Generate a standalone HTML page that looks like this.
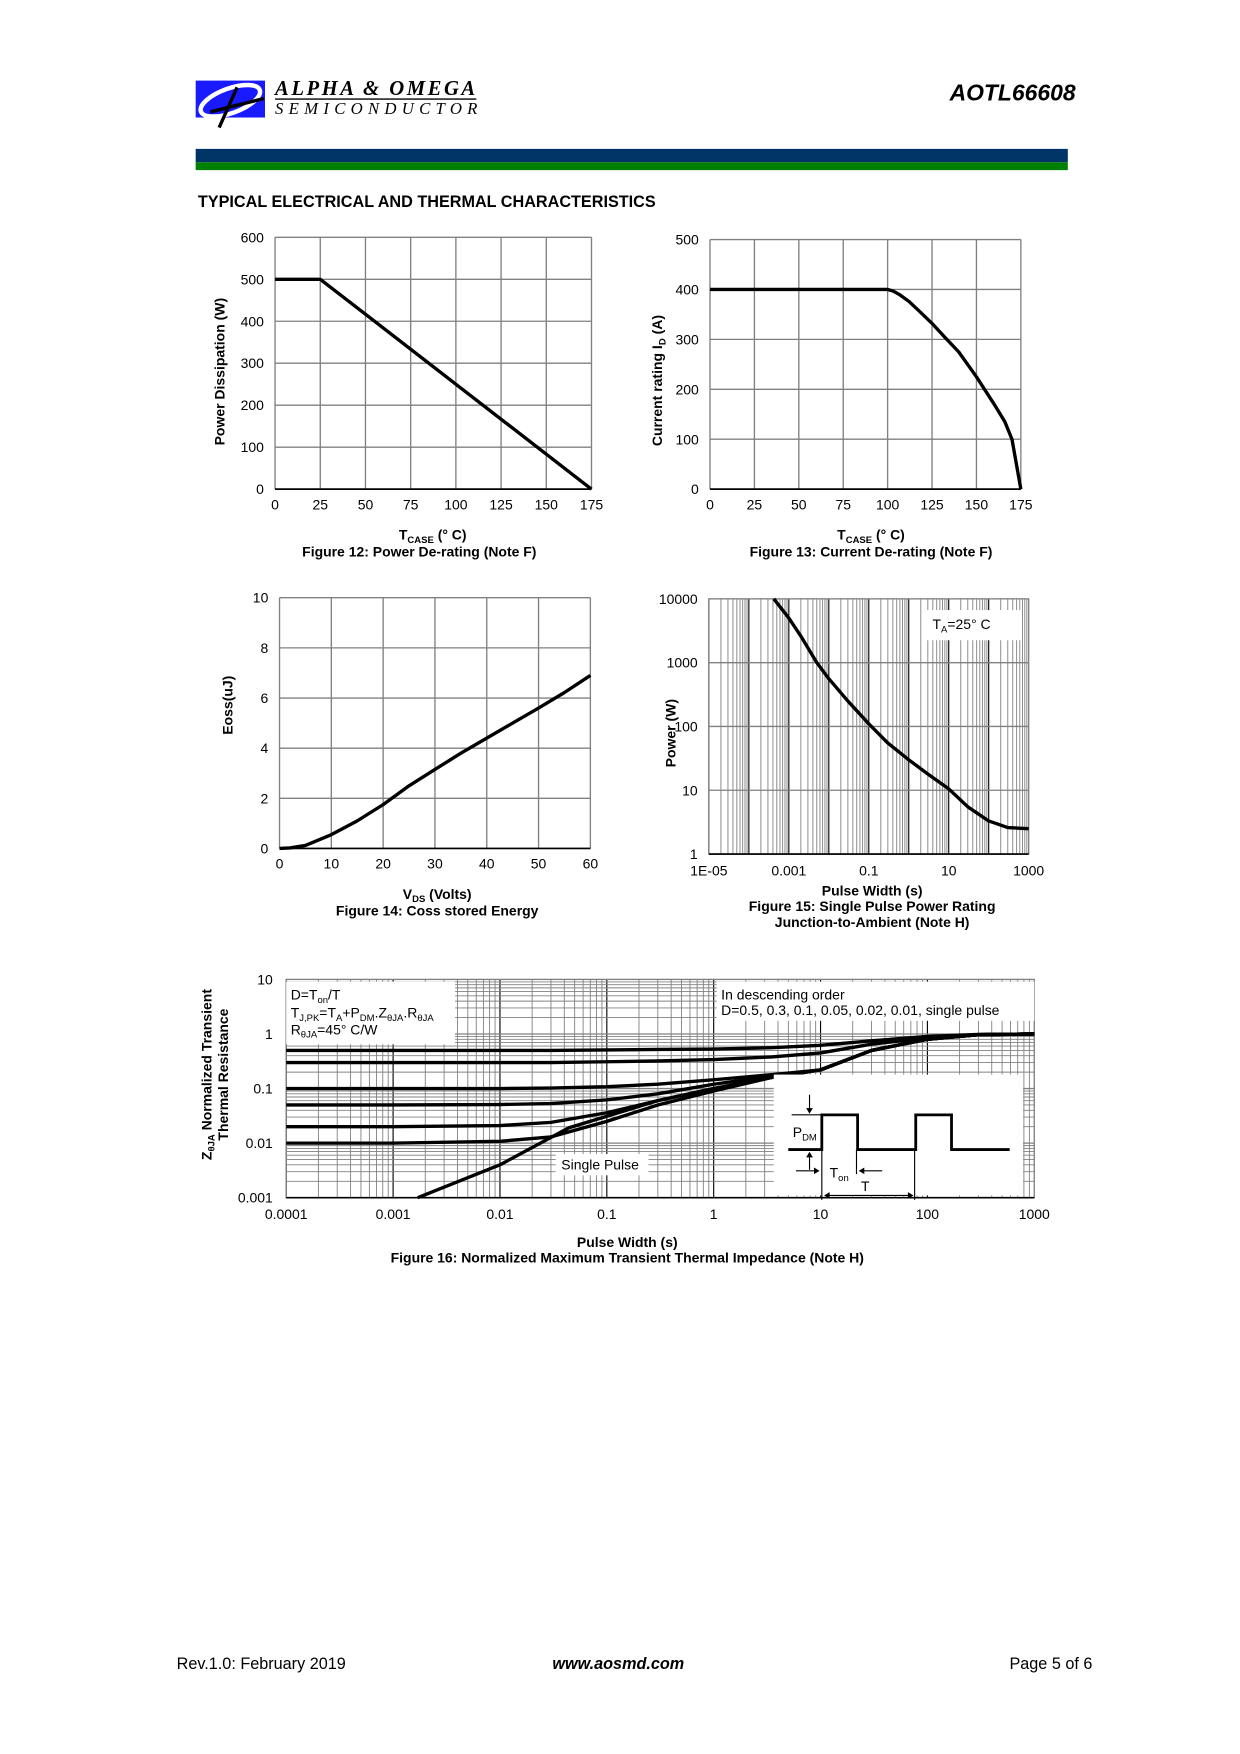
<!DOCTYPE html>
<html><head><meta charset="utf-8">
<style>
html,body{margin:0;padding:0;background:#fff;}
svg{display:block;font-family:"Liberation Sans",Arial,sans-serif;}
.tk{font-size:12.5px;fill:#000;}
.cap{font-size:12.5px;font-weight:bold;fill:#000;}
.grid{stroke:#808080;stroke-width:1.2;fill:none;}
.curve{stroke:#000;stroke-width:3;fill:none;stroke-linejoin:round;}
</style></head>
<body>
<svg id="page" width="1240" height="1754" viewBox="0 0 1109 1567" preserveAspectRatio="none" xmlns="http://www.w3.org/2000/svg">
  <g>
    <rect x="175" y="72" width="62" height="33" fill="#1a1aff"/>
    <ellipse cx="206" cy="90" rx="28" ry="11" fill="none" stroke="#fff" stroke-width="4" transform="rotate(-20 206 90)"/>
    <path d="M196 114 L212 78 M188 100 L236 88" stroke="#000" stroke-width="3" fill="none"/>
    <text x="246" y="85" font-family="Liberation Serif,serif" font-style="italic" font-weight="bold" font-size="18.5" textLength="179">ALPHA &amp; OMEGA</text>
    <line x1="246" y1="88.5" x2="426" y2="88.5" stroke="#000" stroke-width="1.3"/>
    <text x="246" y="102" font-family="Liberation Serif,serif" font-style="italic" font-size="15" textLength="181">SEMICONDUCTOR</text>
  </g>
  <text x="962" y="90" text-anchor="end" font-weight="bold" font-style="italic" font-size="20.5">AOTL66608</text>
  <rect x="175" y="133" width="780" height="12" fill="#003366"/>
  <rect x="175" y="145" width="780" height="7" fill="#008000"/>
  <text x="177" y="185" font-weight="bold" font-size="14.5">TYPICAL ELECTRICAL AND THERMAL CHARACTERISTICS</text>

  <g id="f12"></g>
  <g id="f13"></g>
  <g id="f14"></g>
  <g id="f15"></g>
  <g id="f16"></g>

  <text x="158" y="1491" font-size="14.5">Rev.1.0: February 2019</text>
  <text x="553" y="1491" text-anchor="middle" font-size="14.5" font-weight="bold" font-style="italic">www.aosmd.com</text>
  <text x="977" y="1491" text-anchor="end" font-size="14.5">Page 5 of 6</text>
</svg>
<script>
// ---- Figure 12 data ----
const f12Temp = [0, 25, 175];
const f12Power = [500, 500, 0];
const f12XTicks = [0, 25, 50, 75, 100, 125, 150, 175];
const f12YTicks = [0, 100, 200, 300, 400, 500, 600];
// ---- Figure 13 data ----
const f13Temp = [0, 100, 103, 107, 112, 118, 125, 132, 140, 150, 160, 166, 170, 175];
const f13Current = [400, 400, 397, 389, 376, 356, 332, 305, 275, 225, 170, 135, 100, 0];
const f13XTicks = [0, 25, 50, 75, 100, 125, 150, 175];
const f13YTicks = [0, 100, 200, 300, 400, 500];
// ---- Figure 14 data ----
const f14Vds = [0, 2, 5, 10, 15, 20, 25, 30, 35, 40, 45, 50, 55, 60];
const f14Eoss = [0, 0.02, 0.12, 0.55, 1.1, 1.75, 2.5, 3.15, 3.8, 4.4, 5.0, 5.6, 6.22, 6.9];
const f14XTicks = [0, 10, 20, 30, 40, 50, 60];
const f14YTicks = [0, 2, 4, 6, 8, 10];
// ---- Figure 15 data ----
const f15Time = [0.00042, 0.001, 0.002, 0.005, 0.01, 0.03, 0.1, 0.3, 1, 3, 10, 30, 100, 300, 1000];
const f15Power = [10000, 5000, 2600, 1000, 560, 250, 110, 55, 30, 18, 10.5, 5.5, 3.3, 2.6, 2.5];
const f15XTicks = ["1E-05", "0.001", "0.1", "10", "1000"];
const f15YTicks = ["1", "10", "100", "1000", "10000"];
// ---- Figure 16 data ----
const f16Time = [0.0001, 0.001, 0.01, 0.03, 0.1, 0.3, 1, 3.5, 10, 30, 100, 300, 1000];
const f16D05 = [0.5, 0.5, 0.5, 0.5, 0.51, 0.52, 0.53, 0.56, 0.62, 0.75, 0.9, 0.98, 1.0];
const f16D03 = [0.3, 0.3, 0.3, 0.3, 0.31, 0.32, 0.34, 0.38, 0.45, 0.65, 0.85, 0.97, 1.0];
const f16D01 = [0.1, 0.1, 0.1, 0.102, 0.108, 0.12, 0.145, 0.18, 0.22, 0.5, 0.8, 0.97, 1.0];
const f16D005 = [0.05, 0.05, 0.051, 0.053, 0.062, 0.08, 0.12, 0.17, 0.22, 0.5, 0.8, 0.97, 1.0];
const f16D002 = [0.02, 0.02, 0.021, 0.024, 0.036, 0.06, 0.1, 0.16, 0.22, 0.5, 0.8, 0.97, 1.0];
const f16D001 = [0.01, 0.01, 0.0108, 0.013, 0.025, 0.05, 0.09, 0.16, 0.22, 0.5, 0.8, 0.97, 1.0];
const f16SpTime = [0.0017, 0.01, 0.044, 0.3, 1, 3.5, 10, 30, 100, 300, 1000];
const f16Single = [0.001, 0.004, 0.019, 0.06, 0.1, 0.16, 0.22, 0.5, 0.8, 0.97, 1.0];
const f16XTicks = ["0.0001", "0.001", "0.01", "0.1", "1", "10", "100", "1000"];
const f16YTicks = ["0.001", "0.01", "0.1", "1", "10"];

const NS = "http://www.w3.org/2000/svg";
function mk(parent, tag, attrs, text) {
  const e = document.createElementNS(NS, tag);
  for (const k in attrs) e.setAttribute(k, attrs[k]);
  if (text !== undefined) e.textContent = text;
  parent.appendChild(e);
  return e;
}
function linScale(d0, d1, r0, r1) { return v => r0 + (v - d0) / (d1 - d0) * (r1 - r0); }
function logScale(d0, d1, r0, r1) { const a = Math.log10(d0), b = Math.log10(d1); return v => r0 + (Math.log10(v) - a) / (b - a) * (r1 - r0); }
function pathFrom(xs, ys, sx, sy) { return xs.map((x, i) => (i ? "L" : "M") + sx(x).toFixed(2) + " " + sy(ys[i]).toFixed(2)).join(" "); }

function linearChart(g, box, xd, yd, xt, yt, xs, ys, name) {
  const sx = linScale(xd[0], xd[1], box.x0, box.x1), sy = linScale(yd[0], yd[1], box.y0, box.y1);
  xt.forEach(v => {
    const l = mk(g, "line", {x1: sx(v), x2: sx(v), y1: box.y1, y2: box.y0, class: "grid"});
    
    
    const t = mk(g, "text", {x: sx(v), y: box.y0 + 18, class: "tk", "text-anchor": "middle"}, String(v));
    
    
  });
  yt.forEach(v => {
    const l = mk(g, "line", {x1: box.x0, x2: box.x1, y1: sy(v), y2: sy(v), class: "grid"});
    
    
    const t = mk(g, "text", {x: box.x0 - 10, y: sy(v) + 4.5, class: "tk", "text-anchor": "end"}, String(v));
    
    
  });
  const ax = mk(g, "line", {x1: box.x0, x2: box.x1, y1: box.y0, y2: box.y0, stroke: "#000", "stroke-width": 1.5});
  
  
  const p = mk(g, "path", {d: pathFrom(xs, ys, sx, sy), class: "curve"});
  
  
}
function tcase(g, cx, y) {
  const t = mk(g, "text", {x: cx, y: y, "text-anchor": "middle", class: "cap"});
  
  
  t.innerHTML = 'T<tspan font-size="8.5" dy="3">CASE</tspan><tspan dy="-3"> (° C)</tspan>';
}
function caption(g, cx, y, s) {
  const t = mk(g, "text", {x: cx, y: y, "text-anchor": "middle", class: "cap"}, s);
  
  
}
function ylab(g, x, cy, html) {
  const t = mk(g, "text", {x: 0, y: 0, transform: `translate(${x} ${cy}) rotate(-90)`, "text-anchor": "middle", class: "cap"});
  
  
  t.innerHTML = html;
}

// Figure 12
(function () {
  const g = document.getElementById("f12");
  linearChart(g, {x0: 246, x1: 529, y0: 437, y1: 212}, [0, 175], [0, 600], f12XTicks, f12YTicks, f12Temp, f12Power, "power-derating-line");
  ylab(g, 201, 332, "Power Dissipation (W)");
  tcase(g, 387, 482); caption(g, 375, 497, "Figure 12: Power De-rating (Note F)");
})();
// Figure 13
(function () {
  const g = document.getElementById("f13");
  linearChart(g, {x0: 635, x1: 913, y0: 437, y1: 214}, [0, 175], [0, 500], f13XTicks, f13YTicks, f13Temp, f13Current, "current-derating-line");
  ylab(g, 592, 340, 'Current rating I<tspan font-size="8.5" dy="3">D</tspan><tspan dy="-3"> (A)</tspan>');
  tcase(g, 779, 482); caption(g, 779, 497, "Figure 13: Current De-rating (Note F)");
})();
// Figure 14
(function () {
  const g = document.getElementById("f14");
  linearChart(g, {x0: 250, x1: 528, y0: 758, y1: 534}, [0, 60], [0, 10], f14XTicks, f14YTicks, f14Vds, f14Eoss, "eoss-curve");
  ylab(g, 208, 630, "Eoss(uJ)");
  const t = mk(g, "text", {x: 391, y: 803, "text-anchor": "middle", class: "cap"});
  
  
  t.innerHTML = 'V<tspan font-size="8.5" dy="3">DS</tspan><tspan dy="-3"> (Volts)</tspan>';
  caption(g, 391, 818, "Figure 14: Coss stored Energy");
})();
// Log grid helper
function logGrid(g, sx, sy, xd, yd, box, hMinor) {
  for (let e = Math.log10(xd[0]); e < Math.log10(xd[1]); e++) {
    for (let m = 1; m <= 9; m++) {
      const v = m * Math.pow(10, e);
      const l = mk(g, "line", {x1: sx(v), x2: sx(v), y1: box.y1, y2: box.y0, stroke: m === 1 ? "#000" : "#808080", "stroke-width": m === 1 ? 1 : 0.8});
      
      
    }
  }
  for (let e = Math.log10(yd[0]); e < Math.log10(yd[1]); e++) {
    for (let m = 1; m <= (hMinor ? 9 : 1); m++) {
      const v = m * Math.pow(10, e);
      const l = mk(g, "line", {x1: box.x0, x2: box.x1, y1: sy(v), y2: sy(v), stroke: "#808080", "stroke-width": m === 1 ? 1.2 : 0.8});
      
      
    }
  }
  const r = mk(g, "rect", {x: box.x0, y: box.y1, width: box.x1 - box.x0, height: box.y0 - box.y1, fill: "none", stroke: "#808080", "stroke-width": 1.2});
  
  
  const ax = mk(g, "line", {x1: box.x0, x2: box.x1, y1: box.y0, y2: box.y0, stroke: "#000", "stroke-width": 1.5});
  
  
}
// Figure 15
(function () {
  const g = document.getElementById("f15");
  const box = {x0: 634, x1: 920, y0: 763, y1: 535};
  const sx = logScale(1e-5, 1000, box.x0, box.x1), sy = logScale(1, 10000, box.y0, box.y1);
  logGrid(g, sx, sy, [1e-5, 1000], [1, 10000], box, false);
  f15XTicks.forEach(s => {
    const t = mk(g, "text", {x: sx(parseFloat(s)), y: 782, class: "tk", "text-anchor": "middle"}, s);
    
    
  });
  f15YTicks.forEach(s => {
    const t = mk(g, "text", {x: 624, y: sy(parseFloat(s)) + 4.5, class: "tk", "text-anchor": "end"}, s);
    
    
  });
  const lg = mk(g, "rect", {x: 828, y: 545, width: 86, height: 27, fill: "#fff"});
  
  
  const lt = mk(g, "text", {x: 834, y: 562, class: "tk"});
  
  
  lt.innerHTML = 'T<tspan font-size="8.5" dy="3">A</tspan><tspan dy="-3">=25° C</tspan>';
  const p = mk(g, "path", {d: pathFrom(f15Time, f15Power, sx, sy), class: "curve"});
  
  
  ylab(g, 604, 655, "Power (W)");
  caption(g, 780, 800, "Pulse Width (s)");
  caption(g, 780, 814, "Figure 15: Single Pulse Power Rating");
  caption(g, 780, 828, "Junction-to-Ambient (Note H)");
})();
// Figure 16
(function () {
  const g = document.getElementById("f16");
  const box = {x0: 256, x1: 925, y0: 1070, y1: 875};
  const sx = logScale(1e-4, 1000, box.x0, box.x1), sy = logScale(0.001, 10, box.y0, box.y1);
  logGrid(g, sx, sy, [1e-4, 1000], [0.001, 10], box, true);
  f16XTicks.forEach(s => {
    const t = mk(g, "text", {x: sx(parseFloat(s)), y: 1089, class: "tk", "text-anchor": "middle"}, s);
    
    
  });
  f16YTicks.forEach(s => {
    const t = mk(g, "text", {x: 244, y: sy(parseFloat(s)) + 4.5, class: "tk", "text-anchor": "end"}, s);
    
    
  });
  const boxes = [[256, 877, 151, 56, 'legend-formula-box'], [641, 877, 284, 35, 'legend-order-box'], [497, 1031, 83, 19, 'single-pulse-label-box']];
  boxes.forEach(b => {
    const r = mk(g, "rect", {x: b[0], y: b[1], width: b[2], height: b[3], fill: "#fff"});
    
    
  });
  const series = [[f16Time, f16D05, 'curve-d-0.5'], [f16Time, f16D03, 'curve-d-0.3'], [f16Time, f16D01, 'curve-d-0.1'], [f16Time, f16D005, 'curve-d-0.05'], [f16Time, f16D002, 'curve-d-0.02'], [f16Time, f16D001, 'curve-d-0.01'], [f16SpTime, f16Single, 'curve-single-pulse']];
  series.forEach(s => {
    const p = mk(g, "path", {d: pathFrom(s[0], s[1], sx, sy), class: "curve"});
    
    
  });
  const ins = mk(g, "rect", {x: 692, y: 960, width: 223, height: 108, fill: "#fff"});
  
  
  const t1 = mk(g, "text", {x: 260, y: 893, class: "tk"});
  
  
  t1.innerHTML = 'D=T<tspan font-size="8.5" dy="3">on</tspan><tspan dy="-3">/T</tspan>';
  const t2 = mk(g, "text", {x: 260, y: 909, class: "tk"});
  
  
  t2.innerHTML = 'T<tspan font-size="8.5" dy="3">J,PK</tspan><tspan dy="-3">=T</tspan><tspan font-size="8.5" dy="3">A</tspan><tspan dy="-3">+P</tspan><tspan font-size="8.5" dy="3">DM</tspan><tspan dy="-3">.Z</tspan><tspan font-size="8.5" dy="3">θJA</tspan><tspan dy="-3">.R</tspan><tspan font-size="8.5" dy="3">θJA</tspan>';
  const t3 = mk(g, "text", {x: 260, y: 924, class: "tk"});
  
  
  t3.innerHTML = 'R<tspan font-size="8.5" dy="3">θJA</tspan><tspan dy="-3">=45° C/W</tspan>';
  const t4 = mk(g, "text", {x: 645, y: 893, class: "tk"}, "In descending order");
  
  
  const t5 = mk(g, "text", {x: 645, y: 907, class: "tk"}, "D=0.5, 0.3, 0.1, 0.05, 0.02, 0.01, single pulse");
  
  
  const t6 = mk(g, "text", {x: 502, y: 1045, class: "tk"}, "Single Pulse");
  
  
  const w = mk(g, "path", {d: "M705 1027 L735 1027 L735 996 L767 996 L767 1027 L819 1027 L819 996 L851 996 L851 1027 L903 1027", stroke: "#000", "stroke-width": 2.5, fill: "none"});
  
  
  const aux = mk(g, "path", {d: "M708 996 L735 996 M735 1027 L735 1072 M766 1027 L766 1049 M818 1027 L818 1072 M724 978 L724 992 M724 1045 L724 1031 M712 1046 L731 1046 M789 1046 L770 1046 M739 1068 L816 1068", stroke: "#000", "stroke-width": 1, fill: "none"});
  
  
  const heads = mk(g, "path", {d: "M721 990 L724 995 L727 990 Z M721 1034 L724 1029 L727 1034 Z M728 1043 L733 1046 L728 1049 Z M773 1043 L768 1046 L773 1049 Z M742 1065 L737 1068 L742 1071 Z M812 1065 L817 1068 L812 1071 Z", fill: "#000"});
  
  
  const pd = mk(g, "text", {x: 709, y: 1016, class: "tk"});
  
  
  pd.innerHTML = 'P<tspan font-size="8.5" dy="3">DM</tspan>';
  const ton = mk(g, "text", {x: 742, y: 1052, class: "tk"});
  
  
  ton.innerHTML = 'T<tspan font-size="8.5" dy="3">on</tspan>';
  const tt = mk(g, "text", {x: 770, y: 1064, class: "tk"}, "T");
  
  
  ylab(g, 189, 960, 'Z<tspan font-size="8.5" dy="3">θJA</tspan><tspan dy="-3"> Normalized Transient</tspan>');
  ylab(g, 204, 960, "Thermal Resistance");
  caption(g, 561, 1114, "Pulse Width (s)");
  caption(g, 561, 1128, "Figure 16: Normalized Maximum Transient Thermal Impedance (Note H)");
})();
</script>
</body></html>
